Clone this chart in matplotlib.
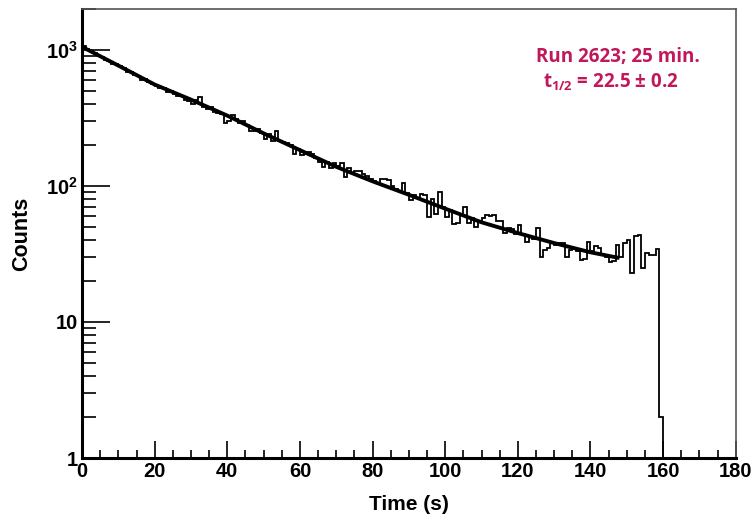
import matplotlib
matplotlib.use("Agg")
import matplotlib.pyplot as plt
import numpy as np
from matplotlib.ticker import FixedLocator, FixedFormatter, MultipleLocator, LogLocator

plt.rcParams['font.family'] = ['Liberation Sans', 'DejaVu Sans']
plt.rcParams['mathtext.fontset'] = 'custom'
plt.rcParams['mathtext.rm'] = 'Liberation Sans:bold'
plt.rcParams['mathtext.bf'] = 'Liberation Sans:bold'

# histogram: counts per 1 s bin, 0..160 s
counts = [
    1070, 1010, 985, 950, 905, 890, 845, 830, 790, 785,
    760, 735, 690, 690, 655, 645, 600, 605, 575, 560,
    540, 520, 525, 490, 495, 470, 455, 460, 430, 420,
    400, 430, 452, 380, 370, 380, 350, 345, 335, 292,
    300, 333, 310, 290, 300, 282, 251, 255, 262, 245,
    221, 240, 212, 251, 215, 210, 208, 200, 170, 185,
    169, 172, 178, 170, 160, 150, 137, 150, 136, 147,
    140, 148, 117, 135, 125, 129, 128, 122, 118, 113,
    108, 105, 113, 112, 110, 100, 95, 92, 105, 88,
    79, 86, 82, 87, 86, 59, 80, 62, 90, 70,
    59, 66, 52.5, 53, 62, 70, 53, 58, 50, 55,
    58, 61, 60, 61, 55, 55, 45, 49, 48, 44,
    52, 44, 39, 42, 41, 49, 30, 34, 35, 38,
    37, 38, 38, 30, 34, 35, 33, 28.6, 29, 39,
    33, 36, 35, 31, 30, 27.8, 28, 37, 30, 38,
    40, 23, 42.5, 43.5, 25, 32, 31, 31, 34.5, 2,
]
bin_edges = np.arange(len(counts) + 1)

# fitted decay curve
fit_t = [0, 10, 20, 30, 40, 50, 60, 70, 80, 90, 100, 110, 120, 130, 140, 148]
fit_y = [1050, 765, 555, 430, 328, 243, 183, 138, 108, 86, 68, 54, 45, 38, 32.5, 29.5]

y_ticks = [1, 10, 100, 1000]
y_ticklabels = ['1', '10', r'$\mathbf{10^{2}}$', r'$\mathbf{10^{3}}$']

fig = plt.figure(figsize=(7.53, 5.17), dpi=100)
ax = fig.add_axes([0.109, 0.114, 0.868, 0.869])

ax.stairs(counts, bin_edges, baseline=1, color='black', lw=1.3)
ax.plot(fit_t, fit_y, color='black', lw=2.8, solid_capstyle='butt')

ax.set_yscale('log')
ax.set_xlim(0, 180)
ax.set_ylim(1, 2000)

ax.xaxis.set_major_locator(MultipleLocator(20))
ax.xaxis.set_minor_locator(MultipleLocator(5))
ax.yaxis.set_major_locator(FixedLocator(y_ticks))
ax.yaxis.set_major_formatter(FixedFormatter(y_ticklabels))
ax.yaxis.set_minor_locator(LogLocator(base=10, subs=np.arange(2, 10)))
ax.yaxis.set_minor_formatter(FixedFormatter([]))

ax.tick_params(axis='both', which='both', direction='in', top=False, right=False,
               labelsize=14.5, width=1.2)
ax.tick_params(axis='x', which='major', length=12, pad=3)
ax.tick_params(axis='x', which='minor', length=6)
ax.tick_params(axis='y', which='major', length=20, pad=3)
ax.tick_params(axis='y', which='minor', length=10)
for lab in ax.get_xticklabels() + ax.get_yticklabels():
    lab.set_fontweight('bold')

for side in ['left', 'bottom']:
    ax.spines[side].set_linewidth(2.2)
for side in ['top', 'right']:
    ax.spines[side].set_linewidth(1.2)
    ax.spines[side].set_color('#555555')

ax.set_xlabel('Time (s)', fontsize=15, fontweight='bold', labelpad=10)
ax.set_ylabel('Counts', fontsize=15.5, fontweight='bold', labelpad=10)

ax.text(0.82, 0.893, 'Run 2623; 25 min.', transform=ax.transAxes, ha='center', va='center',
        fontsize=13.5, color='#C0185A', family=['Open Sans', 'DejaVu Sans'], fontweight='bold')
ax.text(0.808, 0.837, r't$_{\mathregular{1/2}}$ = 22.5 ± 0.2', transform=ax.transAxes,
        ha='center', va='center', fontsize=13.5, color='#C0185A',
        family=['Open Sans', 'DejaVu Sans'], fontweight='bold')

fig.savefig('out.png', dpi=100)
